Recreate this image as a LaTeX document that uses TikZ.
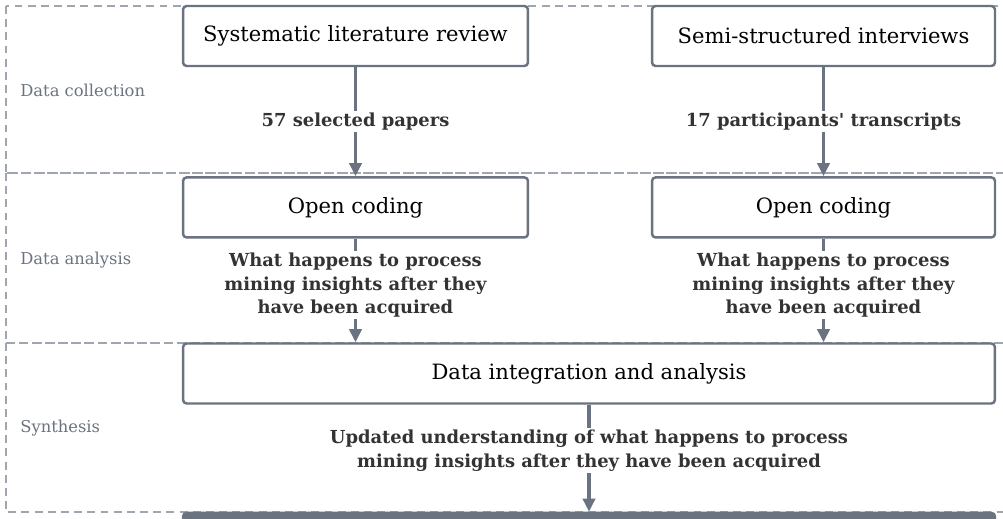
\documentclass[tikz,border=0pt]{standalone}
\usepackage{xcolor}
\usepackage{fontspec}
\setmainfont{DejaVu Serif}
\usepackage{tikz}
\usetikzlibrary{arrows.meta, positioning}
\definecolor{boxcolor}{RGB}{107, 114, 128}
\definecolor{lanecolor}{RGB}{160, 166, 176}
\definecolor{labelcolor}{RGB}{51, 51, 51}

\begin{document}
\begin{tikzpicture}[
        x=0.02cm, y=-0.02cm,
        node distance=2.18cm,
        stagebox/.style={rectangle, rounded corners=2pt, draw=boxcolor, fill=white, line width=1.4pt, minimum width=6.9cm, minimum height=1.2cm, align=center, font=\fontsize{12}{14}\selectfont},
        lane/.style={draw=lanecolor, dash pattern=on 4.5pt off 3pt, line width=0.7pt},
        lanelabel/.style={anchor=west, inner sep=0pt, text=boxcolor, font=\fontsize{9.3}{11}\selectfont},
        flowlabel/.style={fill=white, align=center, text=labelcolor, inner sep=1pt, font=\bfseries\fontsize{10.2}{13.3}\selectfont},
        arrow/.style={line width=2pt, boxcolor, -{Triangle[length=7.5pt, width=7pt]}}
    ]
        \clip (0,0) rectangle (1003,519);

        % Lanes
        \draw [lane] (6,6) rectangle (1020,173);
        \draw [lane] (6,173) rectangle (1020,343);
        \draw [lane] (6,343) rectangle (1020,512);
        \node (collect) [lanelabel] at (20,90) {Data collection};
        \node (analyse) [lanelabel] at (20,260) {Data analysis};
        \node (synth) [lanelabel] at (20,428) {Synthesis};

        % Stages
        \node (slr) [stagebox] at (355.5,36) {Systematic literature review};
        \node (ssi) [stagebox, minimum width=6.86cm] at (823.5,36) {Semi-structured interviews};
        \node (codelit) [stagebox, below=of slr] {Open coding};
        \node (codeint) [stagebox, minimum width=6.86cm, below=of ssi] {Open coding};
        \node (integ) [stagebox, minimum width=16.24cm] at (589,373.5) {Data integration and analysis};
        \node (outcome) [stagebox, minimum width=16.24cm, fill=boxcolor, below=2.14cm of integ] {};

        % Arrows
        \draw [arrow] (slr) -- node[flowlabel] {57 selected papers} (codelit);
        \draw [arrow] (ssi) -- node[flowlabel] {17 participants\textquotesingle{} transcripts} (codeint);
        \draw [arrow] (codelit) -- node[flowlabel, pos=0.45] {What happens to process\\mining insights after they\\have been acquired} (codelit |- integ.north);
        \draw [arrow] (codeint) -- node[flowlabel, pos=0.45] {What happens to process\\mining insights after they\\have been acquired} (codeint |- integ.north);
        \draw [arrow] (integ) -- node[flowlabel, pos=0.43] {Updated understanding of what happens to process\\mining insights after they have been acquired} (outcome);
    \end{tikzpicture}
\end{document}
